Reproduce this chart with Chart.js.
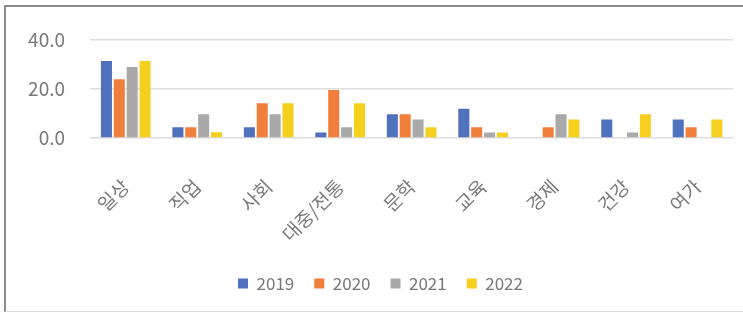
<!DOCTYPE html>
<html>
<head>
<meta charset="utf-8">
<script src="https://cdn.jsdelivr.net/npm/chart.js@4"></script>
<style>
  html, body { margin: 0; padding: 0; background: #fff; }
  #frame {
    position: absolute; left: 4px; top: 5px;
    width: 737px; height: 304px;
    border-top: 2px solid #8c8c8c;
    border-left: 2px solid #8c8c8c;
    border-bottom: 1px solid #dcdcdc;
  }
  #myChart { display: block; }
</style>
</head>
<body>
<div id="frame"><canvas id="myChart" width="737" height="304"></canvas></div>
<script>
const categories = ['일상', '직업', '사회', '대중/전통', '문학', '교육', '경제', '건강', '여가'];
const years = ['2019', '2020', '2021', '2022'];
const values2019 = [31.4, 4.4, 4.4, 2.2, 9.7, 11.9, 0, 7.6, 7.6];
const values2020 = [24.0, 4.4, 14.2, 19.6, 9.7, 4.4, 4.4, 0, 4.4];
const values2021 = [29.0, 9.7, 9.7, 4.4, 7.6, 2.2, 9.7, 2.2, 0];
const values2022 = [31.4, 2.3, 14.2, 14.2, 4.4, 2.2, 7.6, 9.7, 7.6];
const colors = ['#4f71be', '#f07f3c', '#a9a9a9', '#f6cf1f'];

// nudge the legend a little to the right, like the original
const legendShift = {
    id: 'legendShift',
    afterLayout(chart) {
        chart.legend.left += 9;
        chart.legend.right += 9;
    }
};

document.addEventListener('DOMContentLoaded', () => {
    const ctx = document.getElementById('myChart');
    const series = [values2019, values2020, values2021, values2022];
    const fontFamily = '"Noto Sans CJK KR", "Noto Sans"';

    new Chart(ctx, {
        type: 'bar',
        data: {
            labels: categories,
            datasets: series.map((vals, i) => ({
                label: years[i],
                data: vals,
                backgroundColor: colors[i],
                borderWidth: 0,
                categoryPercentage: 0.72,
                barPercentage: 0.86
            }))
        },
        plugins: [legendShift],
        options: {
            responsive: false,
            animation: false,
            layout: { padding: { top: 33, right: 6, bottom: 9, left: 0 } },
            scales: {
                x: {
                    grid: { display: false },
                    border: { display: false },
                    ticks: {
                        minRotation: 45,
                        maxRotation: 45,
                        padding: 29,
                        color: '#7a7a7a',
                        font: { family: fontFamily, size: 19 }
                    },
                    afterFit: scale => { scale.height = 117; }
                },
                y: {
                    min: 0,
                    max: 40,
                    ticks: {
                        stepSize: 20,
                        padding: 25,
                        color: '#7a7a7a',
                        font: { family: fontFamily, size: 19 },
                        callback: v => v.toFixed(1)
                    },
                    grid: { color: '#dedede', lineWidth: 1.5, drawTicks: false },
                    border: { display: false },
                    afterFit: scale => {
                        scale.width = 84;
                        scale.paddingTop = 0;
                    }
                }
            },
            plugins: {
                legend: {
                    position: 'bottom',
                    labels: {
                        boxWidth: 10,
                        boxHeight: 10,
                        padding: 20,
                        color: '#777',
                        font: { family: fontFamily, size: 17 }
                    }
                },
                tooltip: { enabled: false }
            }
        }
    });
});
</script>
</body>
</html>
